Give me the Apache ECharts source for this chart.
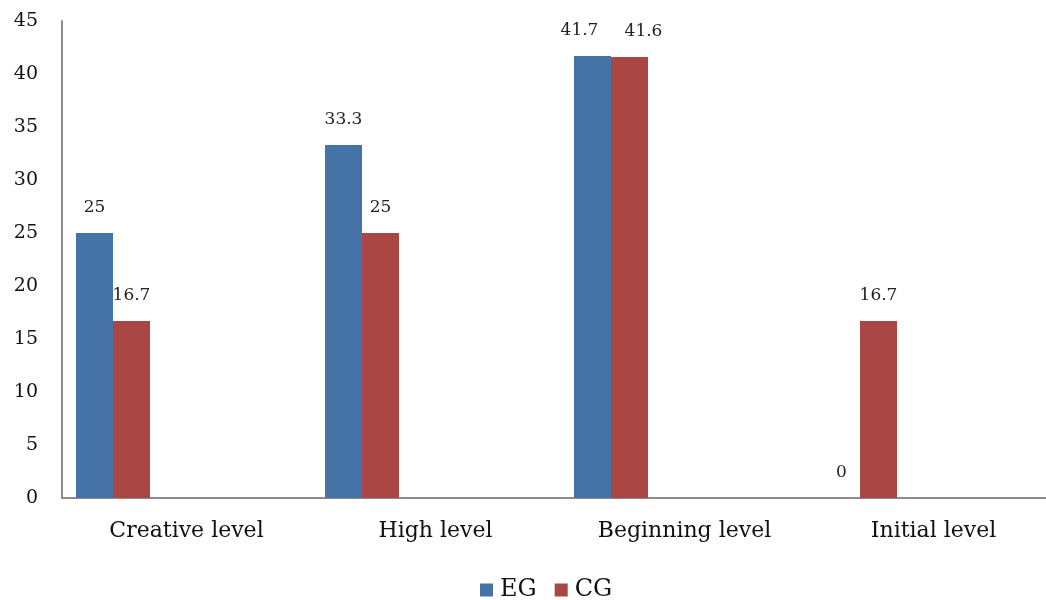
<!DOCTYPE html>
<html>
<head>
<meta charset="utf-8">
<script src="https://cdn.jsdelivr.net/npm/echarts@6/dist/echarts.min.js"></script>
<style>html,body{margin:0;padding:0;background:#fff;overflow:hidden;width:1046px;height:600px;}#c{width:1058px;height:600px;}</style>
</head>
<body>
<div id="c"></div>
<script>
const categories = ['Creative level', 'High level', 'Beginning level', 'Initial level'];
const egValues = [25, 33.3, 41.7, 0];
const cgValues = [16.7, 25, 41.6, 16.7];
const spacerValues = [null, null, null, null];
const yTicks = { min: 0, max: 45, interval: 5 };

const FONT = 'DejaVu Serif';
const chart = echarts.init(document.getElementById('c'), null, { renderer: 'canvas' });
const labelStyle = { show: true, position: 'top', distance: 17, color: '#222', fontFamily: FONT, fontSize: 17 };
// Labels of the two tall bars in "Beginning level" are nudged apart, as in the reference
const nudge = (vals, idx, dx) => vals.map((v, i) => i === idx ? { value: v, label: { offset: [dx, 0] } } : v);
chart.setOption({
  animation: false,
  backgroundColor: '#fff',
  textStyle: { fontFamily: FONT },
  grid: { left: 62, top: 21, bottom: 102, right: 0, containLabel: false },
  legend: {
    data: ['EG', 'CG'],
    top: 573, left: 475,
    itemWidth: 13, itemHeight: 13, itemGap: 18,
    icon: 'rect',
    textStyle: { fontFamily: FONT, fontSize: 24, color: '#111', padding: [0, 0, 0, 2] }
  },
  xAxis: {
    type: 'category',
    data: categories,
    axisLine: { lineStyle: { color: '#8c8c8c', width: 2 } },
    axisTick: { show: false },
    axisLabel: { fontFamily: FONT, fontSize: 22, color: '#111', margin: 22 },
    splitLine: { show: false }
  },
  yAxis: {
    type: 'value',
    min: yTicks.min, max: yTicks.max, interval: yTicks.interval,
    axisLine: { show: true, lineStyle: { color: '#8c8c8c', width: 2 } },
    axisTick: { show: false },
    axisLabel: { fontFamily: FONT, fontSize: 19, color: '#111', margin: 24 },
    splitLine: { show: false }
  },
  series: [
    { name: 'EG', type: 'bar', data: nudge(egValues, 2, -13), barWidth: 37, barGap: 0,
      itemStyle: { color: '#4572a7' }, label: labelStyle },
    { name: 'CG', type: 'bar', data: nudge(cgValues, 2, 14), barWidth: 37, barGap: 0,
      itemStyle: { color: '#aa4643' }, label: labelStyle },
    { name: 'spacer', type: 'bar', data: spacerValues, barWidth: 147, barGap: 0,
      itemStyle: { color: 'transparent' }, label: { show: false } }
  ]
});
</script>
</body>
</html>
